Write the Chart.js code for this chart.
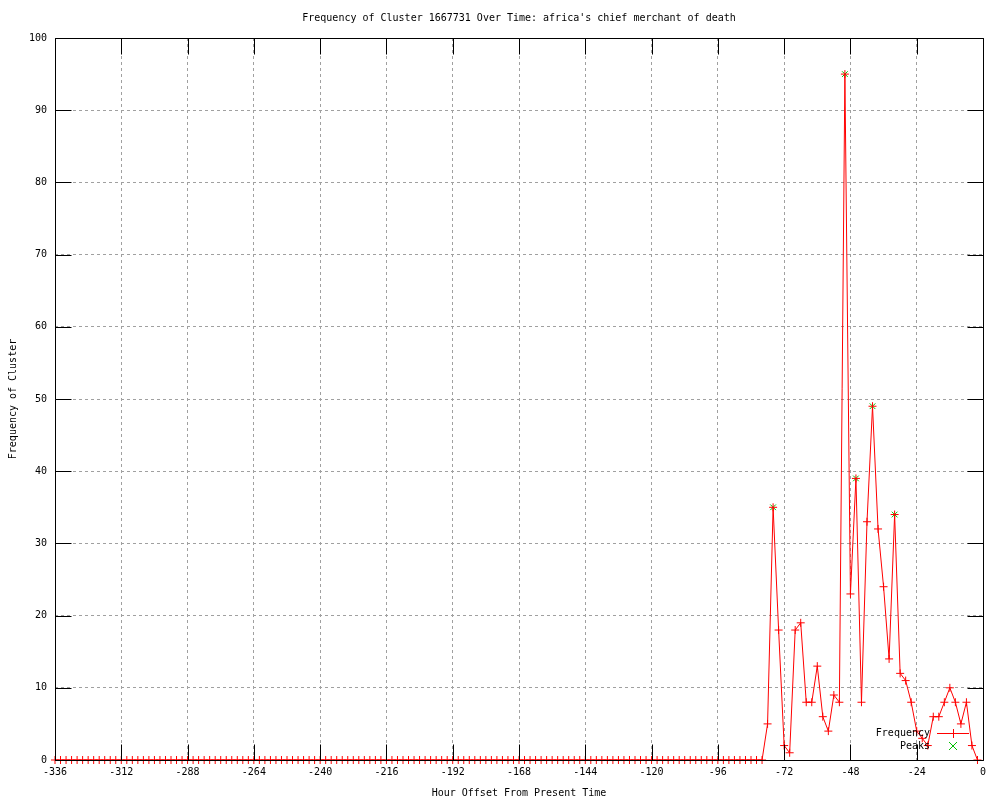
<!DOCTYPE html>
<html>
<head>
<meta charset="utf-8">
<script src="https://cdn.jsdelivr.net/npm/chart.js@4/dist/chart.umd.min.js"></script>
<style>html,body{margin:0;padding:0;background:#fff;}canvas{display:block;}</style>
</head>
<body>
<canvas id="c" width="1000" height="800"></canvas>
<script>
const chartTitle = "Frequency of Cluster 1667731 Over Time: africa's chief merchant of death";
const xAxisTitle = "Hour Offset From Present Time";
const yAxisTitle = "Frequency of Cluster";
const seriesNames = ["Frequency", "Peaks"];

const hours = [
  -336,-334,-332,-330,-328,-326,-324,-322,-320,-318,-316,-314,
  -312,-310,-308,-306,-304,-302,-300,-298,-296,-294,-292,-290,
  -288,-286,-284,-282,-280,-278,-276,-274,-272,-270,-268,-266,
  -264,-262,-260,-258,-256,-254,-252,-250,-248,-246,-244,-242,
  -240,-238,-236,-234,-232,-230,-228,-226,-224,-222,-220,-218,
  -216,-214,-212,-210,-208,-206,-204,-202,-200,-198,-196,-194,
  -192,-190,-188,-186,-184,-182,-180,-178,-176,-174,-172,-170,
  -168,-166,-164,-162,-160,-158,-156,-154,-152,-150,-148,-146,
  -144,-142,-140,-138,-136,-134,-132,-130,-128,-126,-124,-122,
  -120,-118,-116,-114,-112,-110,-108,-106,-104,-102,-100,-98,
  -96,-94,-92,-90,-88,-86,-84,-82,-80,-78,-76,-74,
  -72,-70,-68,-66,-64,-62,-60,-58,-56,-54,-52,-50,
  -48,-46,-44,-42,-40,-38,-36,-34,-32,-30,-28,-26,
  -24,-22,-20,-18,-16,-14,-12,-10,-8,-6,-4,-2
];
const frequency = [
  0,0,0,0,0,0,0,0,0,0,0,0,
  0,0,0,0,0,0,0,0,0,0,0,0,
  0,0,0,0,0,0,0,0,0,0,0,0,
  0,0,0,0,0,0,0,0,0,0,0,0,
  0,0,0,0,0,0,0,0,0,0,0,0,
  0,0,0,0,0,0,0,0,0,0,0,0,
  0,0,0,0,0,0,0,0,0,0,0,0,
  0,0,0,0,0,0,0,0,0,0,0,0,
  0,0,0,0,0,0,0,0,0,0,0,0,
  0,0,0,0,0,0,0,0,0,0,0,0,
  0,0,0,0,0,0,0,0,0,5,35,18,
  2,1,18,19,8,8,13,6,4,9,8,95,
  23,39,8,33,49,32,24,14,34,12,11,8,
  4,3,2,6,6,8,10,8,5,8,2,0
];
const peakHours = [-76, -50, -46, -40, -32];
const peakValues = [35, 95, 39, 49, 34];

const xTickStep = 24;
const yTickStep = 10;

const FONT = "'DejaVu Sans Mono', 'Liberation Mono', monospace";
const RED = '#ff0000';
const GREEN = '#00c000';

const freqPoints = hours.map((h, i) => ({x: h, y: frequency[i]}));
const peakPoints = peakHours.map((h, i) => ({x: h, y: peakValues[i]}));

const framePlugin = {
  id: 'frame',
  afterDraw(chart) {
    const {ctx, chartArea: a, scales: {x, y}} = chart;
    const L = 16;
    const l = Math.round(a.left) + 0.5, r = Math.round(a.right) + 0.5;
    const t = Math.round(a.top) + 0.5, b = Math.round(a.bottom) + 0.5;
    ctx.save();
    ctx.strokeStyle = '#000';
    ctx.lineWidth = 1;
    ctx.beginPath();
    x.ticks.forEach(tk => {
      const px = Math.round(x.getPixelForValue(tk.value)) + 0.5;
      ctx.moveTo(px, b); ctx.lineTo(px, b - L);
      ctx.moveTo(px, t); ctx.lineTo(px, t + L);
    });
    y.ticks.forEach(tk => {
      const py = Math.round(y.getPixelForValue(tk.value)) + 0.5;
      ctx.moveTo(l, py); ctx.lineTo(l + L, py);
      ctx.moveTo(r, py); ctx.lineTo(r - L, py);
    });
    ctx.rect(l, t, r - l, b - t);
    ctx.stroke();
    // title
    ctx.fillStyle = '#000';
    ctx.font = '10px ' + FONT;
    ctx.textAlign = 'center';
    ctx.textBaseline = 'middle';
    ctx.fillText(chartTitle, (a.left + a.right) / 2, 18);
    ctx.restore();
  }
};

const keyPlugin = {
  id: 'key',
  afterDatasetsDraw(chart) {
    const {ctx, chartArea: a} = chart;
    ctx.save();
    ctx.font = '10px ' + FONT;
    ctx.fillStyle = '#000';
    ctx.textAlign = 'right';
    ctx.textBaseline = 'middle';
    const tx = a.right - 53;
    const y1 = a.bottom - 27, y2 = a.bottom - 14;
    ctx.fillText(seriesNames[0], tx, y1);
    ctx.fillText(seriesNames[1], tx, y2);
    const x0 = a.right - 46, x1 = a.right - 14, xm = a.right - 30;
    ctx.lineWidth = 1;
    ctx.strokeStyle = RED;
    ctx.beginPath();
    ctx.moveTo(x0, y1 + 0.5); ctx.lineTo(x1, y1 + 0.5);
    ctx.moveTo(xm + 0.5, y1 - 4); ctx.lineTo(xm + 0.5, y1 + 5);
    ctx.stroke();
    ctx.strokeStyle = GREEN;
    ctx.beginPath();
    ctx.moveTo(xm - 4, y2 - 4); ctx.lineTo(xm + 4, y2 + 4);
    ctx.moveTo(xm + 4, y2 - 4); ctx.lineTo(xm - 4, y2 + 4);
    ctx.stroke();
    ctx.restore();
  }
};

new Chart(document.getElementById('c'), {
  type: 'line',
  data: {
    datasets: [
      {
        label: seriesNames[0],
        data: freqPoints,
        borderColor: RED,
        backgroundColor: RED,
        borderWidth: 1,
        pointStyle: 'cross',
        pointRadius: 4,
        pointBorderColor: RED,
        pointBorderWidth: 1,
        tension: 0,
        clip: false,
        fill: false
      },
      {
        label: seriesNames[1],
        data: peakPoints,
        showLine: false,
        borderColor: GREEN,
        backgroundColor: GREEN,
        pointStyle: 'crossRot',
        pointRadius: 4,
        pointBorderColor: GREEN,
        pointBorderWidth: 1,
        clip: false
      }
    ]
  },
  options: {
    responsive: false,
    animation: false,
    events: [],
    layout: {padding: {top: 38, right: 17, left: 0, bottom: 0}},
    plugins: {
      legend: {display: false},
      title: {display: false},
      tooltip: {enabled: false}
    },
    scales: {
      x: {
        type: 'linear',
        min: -336,
        max: 0,
        afterFit(s) { s.height = 40; },
        ticks: {
          stepSize: xTickStep,
          autoSkip: false,
          maxRotation: 0,
          padding: 6,
          color: '#000',
          font: {family: FONT, size: 10}
        },
        grid: {color: '#a0a0a0', lineWidth: 1, drawTicks: false},
        border: {display: false, dash: [3, 3]},
        title: {
          display: true,
          text: xAxisTitle,
          color: '#000',
          font: {family: FONT, size: 10},
          padding: {top: 0, bottom: 1}
        }
      },
      y: {
        type: 'linear',
        min: 0,
        max: 100,
        afterFit(s) { s.width = 55; },
        ticks: {
          stepSize: yTickStep,
          padding: 8,
          color: '#000',
          font: {family: FONT, size: 10}
        },
        grid: {color: '#a0a0a0', lineWidth: 1, drawTicks: false},
        border: {display: false, dash: [3, 3]},
        title: {
          display: true,
          text: yAxisTitle,
          color: '#000',
          font: {family: FONT, size: 10},
          padding: {top: 7, bottom: 0}
        }
      }
    }
  },
  plugins: [keyPlugin, framePlugin]
});
</script>
</body>
</html>
